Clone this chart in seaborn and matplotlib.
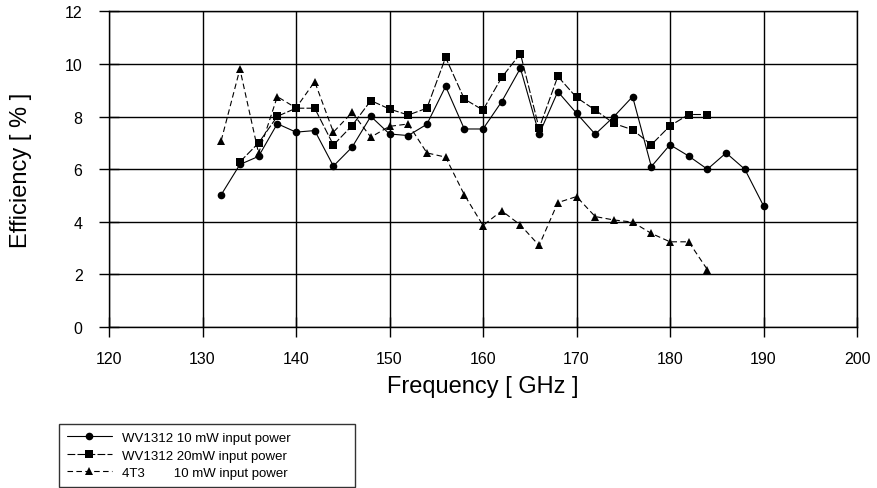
import numpy as np
import pandas as pd
import matplotlib
matplotlib.use("Agg")
import matplotlib.pyplot as plt
import seaborn as sns

# ---------- data ----------
freq_10mw = list(range(132, 191, 2))
eff_10mw = [5.03, 6.18, 6.49, 7.73, 7.41, 7.47, 6.12, 6.84, 8.01, 7.34,
            7.28, 7.71, 9.15, 7.53, 7.53, 8.57, 9.84, 7.33, 8.95, 8.13,
            7.33, 8.00, 8.76, 6.10, 6.93, 6.50, 6.00, 6.62, 6.00, 4.61]

freq_20mw = list(range(134, 185, 2))
eff_20mw = [6.28, 7.00, 8.01, 8.32, 8.32, 6.92, 7.66, 8.61, 8.29, 8.06,
            8.32, 10.25, 8.67, 8.25, 9.49, 10.40, 7.55, 9.53, 8.73, 8.25,
            7.74, 7.50, 6.93, 7.65, 8.08, 8.08]

freq_4t3 = list(range(132, 185, 2))
eff_4t3 = [7.09, 9.81, 6.60, 8.76, 8.33, 9.33, 7.41, 8.16, 7.22, 7.63,
           7.72, 6.62, 6.46, 5.03, 3.86, 4.42, 3.88, 3.10, 4.73, 4.96,
           4.20, 4.07, 3.99, 3.56, 3.24, 3.24, 2.18]

labels = ["WV1312 10 mW input power",
          "WV1312 20mW input power",
          "4T3        10 mW input power"]

x_ticks = list(range(120, 201, 10))
y_ticks = list(range(0, 13, 2))

df = pd.concat([
    pd.DataFrame({"freq": freq_10mw, "eff": eff_10mw, "series": labels[0]}),
    pd.DataFrame({"freq": freq_20mw, "eff": eff_20mw, "series": labels[1]}),
    pd.DataFrame({"freq": freq_4t3, "eff": eff_4t3, "series": labels[2]}),
], ignore_index=True)

# ---------- style ----------
sns.set_style("white")
plt.rcParams["font.family"] = ["Liberation Sans", "DejaVu Sans"]
plt.rcParams["text.color"] = "black"
plt.rcParams["axes.labelcolor"] = "black"
plt.rcParams["xtick.color"] = "black"
plt.rcParams["ytick.color"] = "black"

fig, ax = plt.subplots(figsize=(8.77, 4.89), dpi=100)
fig.subplots_adjust(left=0.1243, right=0.9772, top=0.9746, bottom=0.3292)

sns.lineplot(
    data=df, x="freq", y="eff",
    hue="series", style="series",
    palette=["black", "black", "black"],
    markers={labels[0]: "o", labels[1]: "s", labels[2]: "^"},
    dashes={labels[0]: "", labels[1]: (7, 2), labels[2]: (5, 3)},
    markersize=5.5, markeredgewidth=0, linewidth=0.8,
    estimator=None, ax=ax,
)

ax.set_xlim(120, 200)
ax.set_ylim(0, 12)
ax.set_xticks(x_ticks)
ax.set_yticks(y_ticks)
ax.grid(True, color="black", linewidth=1.0)
for s in ax.spines.values():
    s.set_color("black")
    s.set_linewidth(1.0)
ax.tick_params(bottom=True, left=True, direction="inout", length=14,
               width=1.0, color="black", labelcolor="black", labelsize=11.5)
ax.tick_params(axis="x", pad=10)
ax.tick_params(axis="y", pad=12)

ax.set_xlabel("Frequency [ GHz ]", fontsize=17)
ax.set_ylabel("Efficiency [ % ]", fontsize=17)
ax.xaxis.set_label_coords(0.5, -0.152)
ax.yaxis.set_label_coords(-0.103, 0.5)

handles, lbls = ax.get_legend_handles_labels()
ax.get_legend().remove()
leg = fig.legend(handles, lbls, loc="lower left",
                 bbox_to_anchor=(0.0673, 0.002, 0.3375, 0.135), mode="expand",
                 fontsize=9.5, frameon=True, fancybox=False, edgecolor="black",
                 handlelength=3.4, handletextpad=0.8, labelspacing=0.4,
                 borderaxespad=0, borderpad=0.6)
leg.get_frame().set_linewidth(1.0)

fig.savefig("out.png", dpi=100)
